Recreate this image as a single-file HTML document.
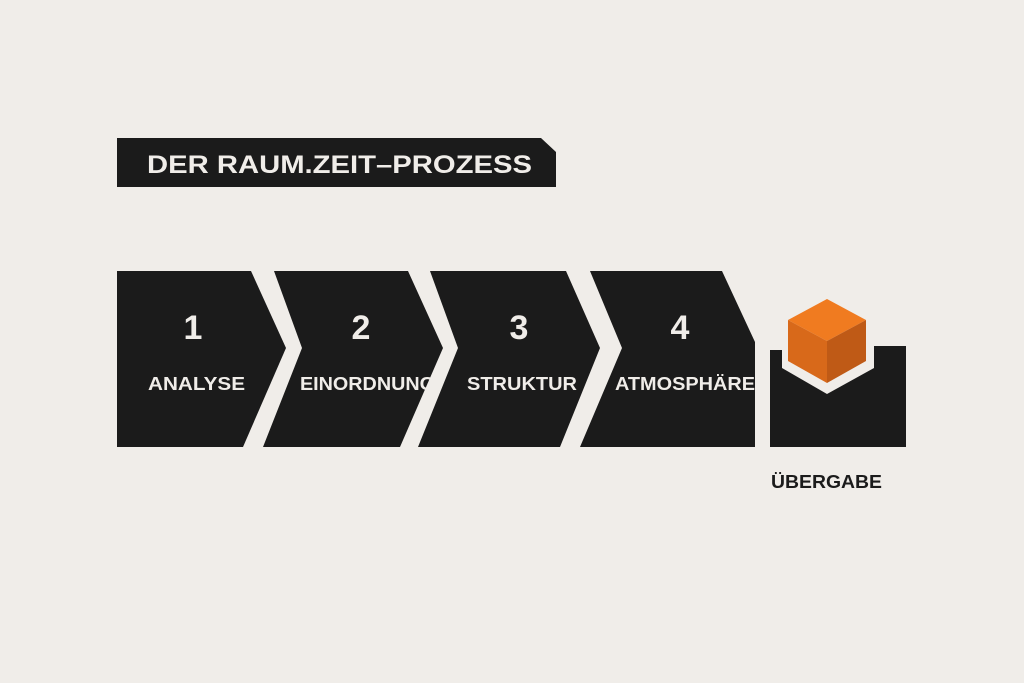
<!DOCTYPE html>
<html><head><meta charset="utf-8"><style>
html,body{margin:0;padding:0;background:#f0ede9;}
svg{display:block}
text{font-family:"Liberation Sans",Arial,sans-serif;font-weight:bold;}
</style></head><body>
<svg width="1024" height="683" viewBox="0 0 1024 683" xmlns="http://www.w3.org/2000/svg">
<rect width="1024" height="683" fill="#f0ede9"/>
<polygon points="117,138 541,138 556,152 556,187 117,187" fill="#1b1b1b"/>
<text x="147" y="173" font-size="25" fill="#f0ede9" textLength="385" lengthAdjust="spacingAndGlyphs">DER RAUM.ZEIT–PROZESS</text>
<g fill="#1b1b1b">
<polygon points="117,271 251,271 286,348 243,447 117,447"/>
<polygon points="274,271 408,271 443,348 400,447 263,447 302,348"/>
<polygon points="430,271 566,271 600,348 560,447 418,447 458,348"/>
<polygon points="590,271 722,271 755,342 755,447 580,447 622,348"/>
<polygon points="770,350 782,350 782,368 827,394 874,368 874,346 906,346 906,447 770,447"/>
</g>
<g fill="#f0ede9">
<g text-anchor="middle">
<text x="193" y="339" font-size="34">1</text>
<text x="361" y="339" font-size="34">2</text>
<text x="519" y="339" font-size="34">3</text>
<text x="680" y="339" font-size="34">4</text>
</g>
<text x="148" y="390" font-size="18" textLength="97" lengthAdjust="spacingAndGlyphs">ANALYSE</text>
<text x="300" y="390" font-size="18" textLength="135" lengthAdjust="spacingAndGlyphs">EINORDNUNG</text>
<text x="467" y="390" font-size="18" textLength="110" lengthAdjust="spacingAndGlyphs">STRUKTUR</text>
<text x="615" y="390" font-size="18" textLength="140" lengthAdjust="spacingAndGlyphs">ATMOSPHÄRE</text>
</g>
<polygon points="827,299 866,320 827,341 788,320" fill="#f07b20"/>
<polygon points="788,320 827,341 827,383 788,361" fill="#d8691a"/>
<polygon points="866,320 827,341 827,383 866,361" fill="#bf5a16"/>
<text x="771" y="488" font-size="18" fill="#1b1b1b" textLength="111" lengthAdjust="spacingAndGlyphs">ÜBERGABE</text>
</svg>
</body></html>
